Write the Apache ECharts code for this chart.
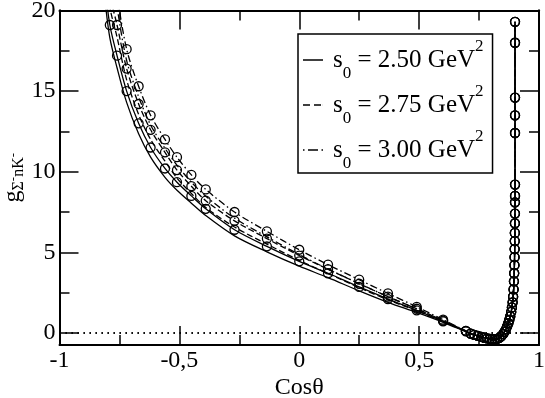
<!DOCTYPE html>
<html>
<head>
<meta charset="utf-8">
<script src="https://cdn.jsdelivr.net/npm/echarts@6/dist/echarts.min.js"></script>
<style>
  html, body { margin: 0; padding: 0; background: #fff; }
  .layer { width: 545px; height: 398px; position: absolute; left: 0; top: 0; }
</style>
</head>
<body>
<div id="frame" class="layer"></div>
<div id="minor" class="layer"></div>
<div id="labels" class="layer"></div>
<div id="chart" class="layer"></div>
<script>
// sample positions along Cos(theta) for the left branch
const xLeft = [-0.81, -0.79, -0.76, -0.72, -0.67, -0.62, -0.56, -0.51, -0.45, -0.39, -0.27, -0.135, 0, 0.12, 0.25, 0.37, 0.49, 0.6, 0.695];

// curves drawn with circles
const c250 = [21.5, 19.1, 17.2, 15.0, 13.0, 11.5, 10.2, 9.35, 8.5, 7.7, 6.4, 5.37, 4.44, 3.7, 2.85, 2.1, 1.4, 0.72, 0.1];
const c275 = [23.5, 21.0, 19.1, 16.4, 14.2, 12.6, 11.2, 10.1, 9.1, 8.2, 6.95, 5.85, 4.8, 3.95, 3.05, 2.25, 1.5, 0.76, 0.12];
const c300 = [27.0, 24.5, 21.0, 17.6, 15.3, 13.5, 12.0, 10.9, 9.8, 8.9, 7.5, 6.3, 5.16, 4.23, 3.3, 2.45, 1.62, 0.82, 0.13];

// plain curves
const p250 = [20.6, 18.3, 16.45, 14.3, 12.35, 10.9, 9.65, 8.85, 8.05, 7.28, 6.02, 5.03, 4.14, 3.43, 2.61, 1.9, 1.27, 0.66, 0.08];
const p275 = [22.6, 20.2, 18.35, 15.7, 13.55, 12.0, 10.65, 9.6, 8.65, 7.78, 6.57, 5.51, 4.5, 3.68, 2.81, 2.05, 1.37, 0.7, 0.1];
const p300 = [26.0, 23.7, 20.25, 16.9, 14.65, 12.9, 11.45, 10.4, 9.35, 8.48, 7.12, 5.96, 4.86, 3.96, 3.06, 2.25, 1.49, 0.76, 0.11];

// right branch, common to all curves
const rightX = [0.715, 0.73, 0.745, 0.76, 0.772, 0.784, 0.795, 0.805, 0.815, 0.825, 0.834, 0.842, 0.85, 0.856, 0.862, 0.867, 0.872, 0.876, 0.88, 0.884, 0.887, 0.89, 0.892, 0.894, 0.8955, 0.8965, 0.8975, 0.898, 0.8985, 0.899, 0.8993, 0.8995, 0.8997, 0.8998, 0.9, 0.9, 0.9, 0.9, 0.9, 0.9, 0.9];
const rightY = [-0.04, -0.12, -0.19, -0.25, -0.3, -0.34, -0.37, -0.39, -0.39, -0.37, -0.31, -0.22, -0.08, 0.06, 0.22, 0.4, 0.6, 0.8, 1.02, 1.3, 1.58, 1.9, 2.25, 2.7, 3.2, 3.7, 4.2, 4.7, 5.2, 5.7, 6.2, 6.8, 7.4, 8.1, 8.5, 9.2, 12.4, 13.5, 14.6, 18.0, 19.3, 21.5];

const s0Names = ['2.50', '2.75', '3.00'];
const yMajor = [0, 5, 10, 15, 20];
const yMinor = [2.5, 7.5, 12.5, 17.5];
const zeroLine = [[-1, 0], [1, 0]];

const FONT = "'Liberation Serif', 'Times New Roman', serif";
const GRID = { left: 59.5, right: 6, top: 10.5, bottom: 53, outerBoundsMode: 'none' };
const dashes = ['solid', [6, 3], [7, 3, 1.5, 3]];
// legend line samples
const legendIcons = [
    'path://M0 0H20V1H0Z',
    'path://M0 0H7V1H0Z M11 0H18V1H11Z M19.9 0H20V1H19.9Z',
    'path://M0 0H1.5V1H0Z M5 0H15V1H5Z M18.5 0H20V1H18.5Z'
];

function curve(ys) {
    return xLeft.map((x, i) => [x, ys[i]]).concat(rightX.map((x, i) => [x, rightY[i]]));
}

const hidden = {
    axisLine: { show: false, onZero: false }, axisTick: { show: false },
    axisLabel: { show: false }, splitLine: { show: false }, minorTick: { show: false }
};
const zeroSeries = {
    name: 'zero', type: 'line', data: zeroLine, symbol: 'none',
    lineStyle: { color: '#000', width: 1.5, type: [1.5, 4.5] }
};

function xFrame(pos) {
    return {
        type: 'value', position: pos, min: -1, max: 1, interval: 0.5,
        axisLine: { show: true, onZero: false, lineStyle: { color: '#000', width: 2 } },
        axisTick: { show: true, inside: true, length: 19, lineStyle: { color: '#000', width: 1.5 } },
        minorTick: { show: true, splitNumber: 2, length: 10, lineStyle: { color: '#000', width: 1.5 } },
        splitLine: { show: false },
        axisLabel: { show: false }
    };
}

function yFrame(pos, ticks, len, labels) {
    return {
        type: 'value', position: pos, min: -0.75, max: 20,
        axisLine: { show: true, onZero: false, lineStyle: { color: '#000', width: 2 } },
        axisTick: { show: true, inside: true, length: len, customValues: ticks.slice(), lineStyle: { color: '#000', width: 1.5 } },
        splitLine: { show: false },
        axisLabel: labels ? { color: '#000', fontFamily: FONT, fontSize: 24, margin: 4, customValues: ticks.slice() } : { show: false }
    };
}

// ---- frame: box, major ticks, y labels ----
echarts.init(document.getElementById('frame')).setOption({
    animation: false, backgroundColor: 'transparent', grid: GRID,
    xAxis: [xFrame('bottom'), xFrame('top')],
    yAxis: [yFrame('left', yMajor, 19, true), yFrame('right', yMajor, 19, false)],
    series: [zeroSeries]
});

// ---- minor y ticks ----
echarts.init(document.getElementById('minor')).setOption({
    animation: false, backgroundColor: 'transparent', grid: GRID,
    xAxis: Object.assign({ type: 'value', min: -1, max: 1 }, hidden),
    yAxis: [yFrame('left', yMinor, 10, false), yFrame('right', yMinor, 10, false)],
    series: [zeroSeries]
});

// ---- x tick labels with decimal comma ----
echarts.init(document.getElementById('labels')).setOption({
    animation: false, backgroundColor: 'transparent', grid: GRID,
    xAxis: {
        type: 'value', min: -1, max: 1, interval: 0.5,
        axisLine: { show: false, onZero: false }, axisTick: { show: false },
        splitLine: { show: false }, minorTick: { show: false },
        axisLabel: {
            color: '#000', fontFamily: FONT, fontSize: 24, margin: 4,
            formatter: v => String(v).replace('.', ',')
        }
    },
    yAxis: Object.assign({ type: 'value', min: -0.75, max: 20 }, hidden),
    series: []
});

// ---- data: curves, legend, axis names ----
const series = [];
[p250, p275, p300].forEach((ys, k) => {
    series.push({
        name: s0Names[k], type: 'line', data: curve(ys), smooth: 0.3,
        symbol: 'none', color: '#000',
        lineStyle: { color: '#000', width: 1.3, type: dashes[k] }
    });
});
[c250, c275, c300].forEach((ys, k) => {
    series.push({
        name: 'c' + s0Names[k], type: 'line', data: curve(ys), smooth: 0.3,
        symbol: 'circle', symbolSize: 9, showAllSymbol: true,
        itemStyle: { color: 'rgba(0,0,0,0)', borderColor: '#000', borderWidth: 1.3 },
        lineStyle: { color: '#000', width: 1.3, type: dashes[k] }
    });
});

const chart = echarts.init(document.getElementById('chart'));
const option = {
    animation: false,
    backgroundColor: 'transparent',
    grid: GRID,
    xAxis: Object.assign({
        type: 'value', min: -1, max: 1,
        name: 'Cosθ', nameLocation: 'middle', nameGap: 31, nameMoveOverlap: false,
        nameTextStyle: { color: '#000', fontFamily: FONT, fontSize: 24 }
    }, hidden),
    yAxis: Object.assign({
        type: 'value', min: -0.75, max: 20,
        name: '{g|g}{s|Σ}{p|-}{s|nK}{p|-}', nameLocation: 'middle', nameGap: 33, nameRotate: 90,
        nameMoveOverlap: false,
        nameTextStyle: {
            color: '#000', fontFamily: FONT,
            rich: {
                g: { fontFamily: FONT, fontSize: 24, lineHeight: 26, verticalAlign: 'top', padding: [0, 0, 8, 0] },
                s: { fontFamily: FONT, fontSize: 16, lineHeight: 16, verticalAlign: 'bottom' },
                p: { fontFamily: FONT, fontSize: 13, lineHeight: 13, verticalAlign: 'bottom', padding: [0, 0, 6, 0] }
            }
        }
    }, hidden),
    legend: {
        data: s0Names.map((n, k) => ({ name: n, icon: legendIcons[k] })),
        orient: 'vertical', left: 298, top: 34,
        itemWidth: 20, itemHeight: 1.5, itemGap: 1, symbolKeepAspect: false,
        padding: [4, 9, 1, 5],
        borderColor: '#000', borderWidth: 1.5, backgroundColor: '#fff',
        selectedMode: false,
        formatter: n => '{s|s}{sub|0}{t| = ' + n + ' GeV}{sup|2}',
        textStyle: {
            color: '#000', fontFamily: FONT,
            rich: {
                s: { fontFamily: FONT, fontSize: 25, lineHeight: 44, padding: [0, 0, 0, 5] },
                t: { fontFamily: FONT, fontSize: 25, lineHeight: 44 },
                sub: { fontFamily: FONT, fontSize: 17, lineHeight: 16, verticalAlign: 'bottom' },
                sup: { fontFamily: FONT, fontSize: 17, lineHeight: 18, verticalAlign: 'top' }
            }
        }
    },
    series: series
};

chart.setOption(option);
</script>
</body>
</html>
